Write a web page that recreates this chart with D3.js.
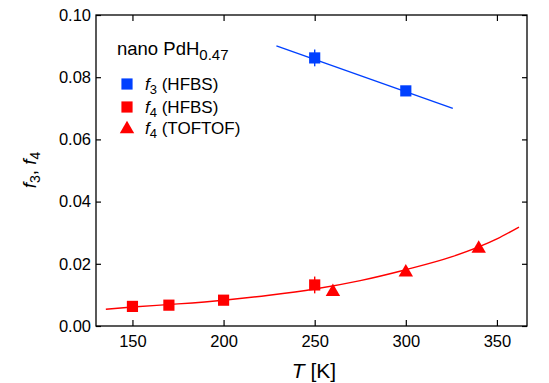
<!DOCTYPE html>
<html><head><meta charset="utf-8">
<script src="https://cdn.jsdelivr.net/npm/d3@7"></script>
<style>body{margin:0;background:#fff;} text{font-family:Arial,"Liberation Sans",sans-serif;}</style>
</head><body><svg id="c" width="549" height="383"></svg>
<script>
// Data
const f3T = [250, 300];
const f3Val = [0.0862, 0.0756];
const f3Err = [0.0027, 0];
const f4hT = [150, 170, 200, 250];
const f4hVal = [0.0063, 0.0067, 0.0083, 0.0132];
const f4hErr = [0, 0, 0, 0.0027];
const f4tT = [260, 300, 340];
const f4tVal = [0.0113, 0.0176, 0.0252];
const fit3T = [229, 325.8];
const fit3Val = [0.0901, 0.0700];
const fit4T = [135.4, 150, 175, 200, 225, 250, 275, 300, 325, 350, 362.1];
const fit4Val = [0.0054, 0.0061, 0.0071, 0.0083, 0.0099, 0.0119, 0.0146, 0.0181, 0.0222, 0.0280, 0.0318];
const xTicks = [150, 200, 250, 300, 350];
const yTicks = [0, 0.02, 0.04, 0.06, 0.08, 0.10];

const blue = "#0040ff", red = "#ff0000";
const L = 96, R = 527, T = 15, B = 326;
const svg = d3.select("#c");
const x = d3.scaleLinear().domain([130, 366.5]).range([L, R]);
const y = d3.scaleLinear().domain([0, 0.1]).range([B, T]);

// frame
svg.append("rect").attr("x", L).attr("y", T).attr("width", R - L).attr("height", B - T)
  .attr("fill", "none").attr("stroke", "#000").attr("stroke-width", 1.3);

function styleAxis(g, hideLabels) {
  g.select(".domain").remove();
  g.selectAll(".tick line").attr("stroke", "#000").attr("stroke-width", 1.2);
  g.selectAll(".tick text").attr("font-size", 16.5).attr("fill", "#000")
    .attr("font-family", "Arial, 'Liberation Sans', sans-serif");
  if (hideLabels) g.selectAll(".tick text").remove();
}
svg.append("g").attr("transform", `translate(0,${B})`)
  .call(d3.axisBottom(x).tickValues(xTicks).tickSize(-6).tickPadding(9).tickFormat(d3.format("d")))
  .call(g => styleAxis(g, false));
svg.append("g").attr("transform", `translate(0,${T})`)
  .call(d3.axisTop(x).tickValues(xTicks).tickSize(-6))
  .call(g => styleAxis(g, true));
svg.append("g").attr("transform", `translate(${L},0)`)
  .call(d3.axisLeft(y).tickValues(yTicks).tickSize(-5).tickPadding(5).tickFormat(d3.format(".2f")))
  .call(g => styleAxis(g, false));
svg.append("g").attr("transform", `translate(${R},0)`)
  .call(d3.axisRight(y).tickValues(yTicks).tickSize(-5))
  .call(g => styleAxis(g, true));

// axis titles
const xt = svg.append("text").attr("x", 314).attr("y", 378).attr("text-anchor", "middle").attr("font-size", 21);
xt.append("tspan").attr("font-style", "italic").text("T");
xt.append("tspan").text(" [K]");
const yt = svg.append("text").attr("transform", "translate(36,170) rotate(-90)").attr("text-anchor", "middle").attr("font-size", 19);
yt.append("tspan").attr("font-style", "italic").text("f");
yt.append("tspan").attr("font-size", 14).attr("dy", 4).text("3");
yt.append("tspan").attr("dy", -4).text(", ");
yt.append("tspan").attr("font-style", "italic").text("f");
yt.append("tspan").attr("font-size", 14).attr("dy", 4).text("4");

// fits
const line = d3.line().x(d => x(d[0])).y(d => y(d[1])).curve(d3.curveMonotoneX);
svg.append("path").attr("d", line(fit3T.map((t, i) => [t, fit3Val[i]])))
  .attr("fill", "none").attr("stroke", blue).attr("stroke-width", 1.4);
svg.append("path").attr("d", line(fit4T.map((t, i) => [t, fit4Val[i]])))
  .attr("fill", "none").attr("stroke", red).attr("stroke-width", 1.4);

// error bars
function errBars(ts, vs, es, color) {
  ts.forEach((t, i) => {
    if (es[i] > 0) svg.append("line").attr("x1", x(t)).attr("x2", x(t))
      .attr("y1", y(vs[i] - es[i])).attr("y2", y(vs[i] + es[i]))
      .attr("stroke", color).attr("stroke-width", 1.4);
  });
}
errBars(f3T, f3Val, f3Err, blue);
errBars(f4hT, f4hVal, f4hErr, red);

const sq = d3.symbol().type(d3.symbolSquare).size(125);
const tri = d3.symbol().type(d3.symbolTriangle).size(90);
f3T.forEach((t, i) => svg.append("path").attr("d", sq()).attr("fill", blue)
  .attr("transform", `translate(${x(t)},${y(f3Val[i])})`));
f4hT.forEach((t, i) => svg.append("path").attr("d", sq()).attr("fill", red)
  .attr("transform", `translate(${x(t)},${y(f4hVal[i])})`));
f4tT.forEach((t, i) => svg.append("path").attr("d", tri()).attr("fill", red)
  .attr("transform", `translate(${x(t)},${y(f4tVal[i]) + 1})`));

// legend
const title = svg.append("text").attr("x", 117).attr("y", 55).attr("font-size", 18.5);
title.append("tspan").text("nano PdH");
title.append("tspan").attr("font-size", 15).attr("dy", 5).text("0.47");
const leg = [
  {sym: sq, color: blue, sub: "3", label: " (HFBS)", y: 84},
  {sym: sq, color: red, sub: "4", label: " (HFBS)", y: 107},
  {sym: tri, color: red, sub: "4", label: " (TOFTOF)", y: 128}
];
leg.forEach(d => {
  svg.append("path").attr("d", d.sym()).attr("fill", d.color)
    .attr("transform", `translate(127,${d.y + (d.sym === tri ? 1 : 0)})`);
  const t = svg.append("text").attr("x", 145).attr("y", d.y + 6).attr("font-size", 17);
  t.append("tspan").attr("font-style", "italic").text("f");
  t.append("tspan").attr("font-size", 13).attr("dy", 4).text(d.sub);
  t.append("tspan").attr("dy", -4).text(d.label);
});
</script></body></html>
